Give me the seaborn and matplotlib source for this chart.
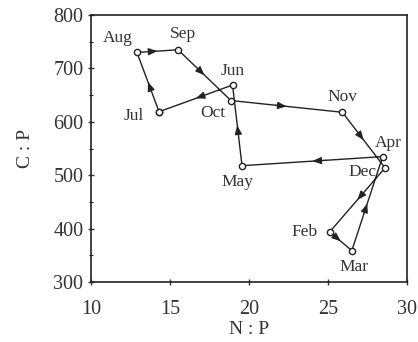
import numpy as np
import pandas as pd
import matplotlib
matplotlib.use("Agg")
import matplotlib.pyplot as plt
import seaborn as sns
from matplotlib.ticker import MultipleLocator

# Seasonal N:P and C:P ratios, in the order the cycle is traced
months = ["Jul", "Aug", "Sep", "Oct", "Nov", "Dec", "Feb", "Mar", "Apr", "May", "Jun", "Jul"]
n_p = [14.3, 12.9, 15.5, 18.85, 25.9, 28.6, 25.1, 26.5, 28.45, 19.55, 18.95, 14.3]
c_p = [619, 730, 735, 640, 618, 514, 394, 359, 535, 518, 669, 619]

# Label offsets (pixels) for each month name
label_offsets = {
    "Aug": (-19, 14), "Sep": (5, 16), "Jun": (0, 14), "Oct": (-18, -12),
    "Jul": (-25, -4), "Nov": (0, 15), "Apr": (6, 14), "Dec": (-23, -4),
    "May": (-5, -16), "Feb": (-25, 0), "Mar": (2, -16),
}

sns.set_style("ticks")
plt.rcParams["font.family"] = ["Liberation Serif", "DejaVu Serif"]

df = pd.DataFrame({"month": months, "np": n_p, "cp": c_p})

fig = plt.figure(figsize=(4.18, 3.42), dpi=100)
ax = fig.add_axes([0.218, 0.175, 0.756, 0.781])

sns.lineplot(data=df, x="np", y="cp", sort=False, estimator=None, ax=ax,
             color="#222222", lw=1.0, marker="o", markersize=4.5,
             markerfacecolor="white", markeredgecolor="#222222",
             markeredgewidth=1.0)

# Direction arrows at the middle of each segment
for i in range(len(df) - 1):
    x0, y0 = df.np[i], df.cp[i]
    x1, y1 = df.np[i + 1], df.cp[i + 1]
    mx, my = (x0 + x1) / 2, (y0 + y1) / 2
    sx, sy = x0 + (x1 - x0) * 0.40, y0 + (y1 - y0) * 0.40
    ax.annotate("", xy=(mx, my), xytext=(sx, sy),
                arrowprops=dict(arrowstyle="-|>,head_length=0.55,head_width=0.22",
                                color="#222222", lw=0.8, shrinkA=0, shrinkB=0))

for m, x, y in zip(months[:-1], n_p[:-1], c_p[:-1]):
    dx, dy = label_offsets[m]
    ax.annotate(m, (x, y), xytext=(dx, dy), textcoords="offset pixels",
                ha="center", va="center", fontsize=12.5, color="#333333")

ax.set_xlim(10, 30)
ax.set_ylim(300, 800)
ax.xaxis.set_major_locator(MultipleLocator(5))
ax.yaxis.set_major_locator(MultipleLocator(100))
ax.yaxis.set_minor_locator(MultipleLocator(50))
ax.tick_params(axis="both", which="major", direction="inout", length=5,
               width=1.0, labelsize=14.5, colors="#333333")
ax.tick_params(axis="x", which="major", pad=10)
ax.tick_params(axis="y", which="major", pad=3)
ax.tick_params(axis="y", which="minor", direction="inout", length=3, width=0.8)
for s in ax.spines.values():
    s.set_visible(True)
    s.set_linewidth(1.2)
    s.set_color("#222222")

ax.set_xlabel("N : P", fontsize=14, color="#333333", labelpad=2)
ax.set_ylabel("C : P", fontsize=14, color="#333333", labelpad=14)

fig.savefig("out.png", dpi=100, facecolor="white")
